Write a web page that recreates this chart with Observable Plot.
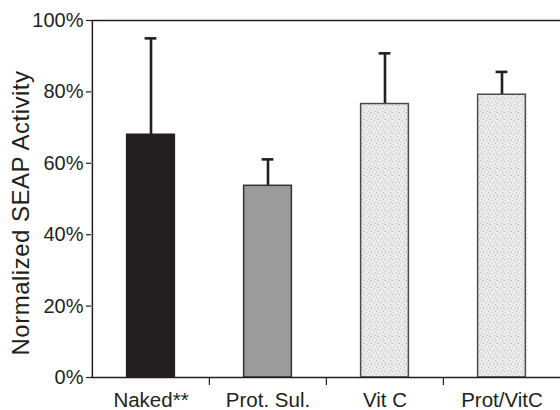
<!DOCTYPE html>
<html>
<head>
<meta charset="utf-8">
<script src="https://cdn.jsdelivr.net/npm/d3@7"></script>
<script src="https://cdn.jsdelivr.net/npm/@observablehq/plot@0.6"></script>
<style>
  html, body { margin: 0; padding: 0; background: #fff; }
</style>
</head>
<body>
<div id="chart"></div>
<script>
// Data
const categories = ["Naked**", "Prot. Sul.", "Vit C", "Prot/VitC"];
const means = [68, 53.7, 76.6, 79.2];
const errorTops = [95, 61.1, 90.8, 85.6];
const yTicks = [0, 20, 40, 60, 80, 100];
const yLabel = "Normalized SEAP Activity";

// Styling (not data)
const fills = ["#231f20", "#9b9b9b", "url(#stipple)", "url(#stipple)"];
const strokes = ["#231f20", "#333333", "#4a4a4a", "#4a4a4a"];
const ink = "#231f20";

const rows = categories.map((c, i) => ({category: c, mean: means[i], err: errorTops[i], stroke: strokes[i]}));

const width = 560, height = 410;
const marginLeft = 91, marginRight = 0, marginTop = 20, marginBottom = 33;
const bw = (width - marginLeft - marginRight) / categories.length;

const svg = Plot.plot({
  width, height, marginLeft, marginRight, marginTop, marginBottom,
  style: {fontFamily: "'Liberation Sans', Arial, sans-serif", fontSize: "20px", color: ink, background: "#fff"},
  x: {type: "band", domain: categories, padding: 0, label: null},
  y: {domain: [0, 100], label: null},
  color: {type: "ordinal", domain: categories, range: fills},
  marks: [
    Plot.ruleX(rows, {x: "category", y1: "mean", y2: "err", stroke: ink, strokeWidth: 2.6}),
    Plot.tickY(rows, {x: "category", y: "err", stroke: ink, strokeWidth: 2.6, insetLeft: (bw - 12) / 2, insetRight: (bw - 12) / 2}),
    Plot.barY(rows, {x: "category", y: "mean", fill: "category", stroke: "stroke", strokeWidth: 1.5, insetLeft: (bw - 48) / 2, insetRight: (bw - 48) / 2}),
    Plot.ruleY([yTicks[0]], {stroke: ink, strokeWidth: 1.5}),
    Plot.ruleY([yTicks[yTicks.length - 1]], {stroke: ink, strokeWidth: 1.5}),
    Plot.ruleX([categories[0]], {y1: yTicks[0], y2: yTicks[yTicks.length - 1], dx: -bw / 2, stroke: ink, strokeWidth: 1.5}),
    Plot.axisY(yTicks, {tickSize: 5, tickPadding: 3, tickFormat: d => d + "%", fontSize: 20, stroke: ink, strokeWidth: 1.2, label: null}),
    Plot.axisX({tickSize: 0, tickPadding: 15, fontSize: 20.5, label: null}),
    Plot.axisX(categories.slice(1), {tickSize: 8, tickFormat: () => "", dx: -bw / 2, stroke: ink, strokeWidth: 1.2, label: null}),
    Plot.text([yLabel], {text: d => d, frameAnchor: "left", textAnchor: "middle", rotate: -90, dx: -70, dy: 14, fontSize: 24, fill: ink, style: "letter-spacing: 0.5px"})
  ]
});

// Stipple pattern for the light bars (fine scattered dots)
const defs = d3.select(svg).insert("defs", ":first-child");
const pat = defs.append("pattern").attr("id", "stipple").attr("patternUnits", "userSpaceOnUse")
  .attr("width", 7).attr("height", 7);
pat.append("rect").attr("width", 7).attr("height", 7).attr("fill", "#ececec");
const dots = [[0,0,"#b4b4b4"],[3,1,"#c4c4c4"],[5,3,"#b4b4b4"],[1,4,"#c8c8c8"],[4,6,"#bcbcbc"],[6,0,"#d0d0d0"],[2,2,"#d4d4d4"],[6,5,"#c8c8c8"]];
for (const [px, py, c] of dots) pat.append("rect").attr("x", px).attr("y", py).attr("width", 1).attr("height", 1).attr("fill", c);

// letter spacing on the axis title
d3.select(svg).selectAll("text").filter(function() { return this.textContent === yLabel; }).style("letter-spacing", "0.5px");

document.getElementById("chart").appendChild(svg);
</script>
</body>
</html>
